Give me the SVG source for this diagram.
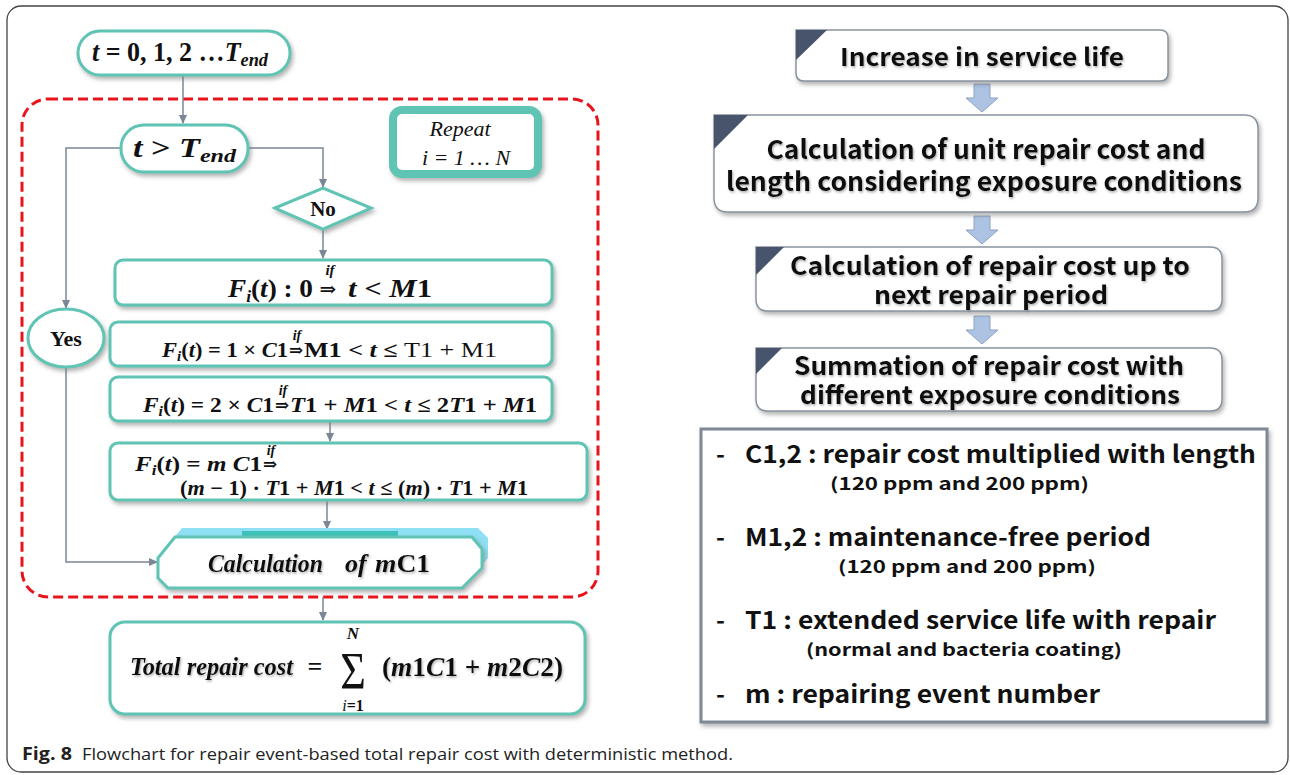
<svg xmlns="http://www.w3.org/2000/svg" width="1290" height="775" viewBox="0 0 1290 775">
<defs>
<style>
.teal{fill:#fff;stroke:#5ec4b3;stroke-width:3}
.conn{stroke:#7b8794;stroke-width:1.5;fill:none}
.m{font-family:"Liberation Serif","DejaVu Serif",serif;font-weight:bold;fill:#111}
.it{font-style:italic}
.nb{font-weight:normal}
.ar{font-family:"DejaVu Serif",serif;font-weight:bold;fill:#111}
.hd{font-family:"Noto Sans CJK KR","Noto Sans",sans-serif;font-weight:bold;fill:#111}
.lg{font-family:"Noto Sans CJK KR","Noto Sans",sans-serif;font-weight:bold;fill:#111}
.rbox{fill:#fff;stroke:#8a94a0;stroke-width:1.5}
.tri{fill:#47546b}
.barrow{fill:#adc3e4;stroke:#8ea2bf;stroke-width:1}
</style>
<filter id="sh" x="-10%" y="-10%" width="125%" height="140%">
<feDropShadow dx="2" dy="3" stdDeviation="2" flood-color="#777" flood-opacity="0.55"/>
</filter>
<filter id="tsh" x="-5%" y="-20%" width="110%" height="150%">
<feDropShadow dx="1" dy="1.5" stdDeviation="1" flood-color="#777" flood-opacity="0.6"/>
</filter>
<marker id="ah" markerWidth="9" markerHeight="8" refX="8" refY="4" orient="auto" markerUnits="userSpaceOnUse">
<path d="M0,0 L9,4 L0,8 z" fill="#7b8794"/>
</marker>
</defs>

<rect id="frame" x="7" y="6" width="1281" height="766" rx="14" fill="none" stroke="#444" stroke-width="1.3"/>

<g id="loop-region">
<rect x="22" y="99" width="576" height="498" rx="26" fill="none" stroke="#e8141c" stroke-width="3" stroke-dasharray="10 5"/>
</g>

<g id="connectors">
<path class="conn" d="M183,76 V123" marker-end="url(#ah)"/>
<path class="conn" d="M121,148 H66 V308" marker-end="url(#ah)"/>
<path class="conn" d="M248,148 H323 V187" marker-end="url(#ah)"/>
<path class="conn" d="M323,229 V258" marker-end="url(#ah)"/>
<path class="conn" d="M330,421 V441" marker-end="url(#ah)"/>
<path class="conn" d="M327,500 V529" marker-end="url(#ah)"/>
<path class="conn" d="M66,367 V562 H157" marker-end="url(#ah)"/>
<path class="conn" d="M323,597 V620" marker-end="url(#ah)"/>
<path class="barrow" d="M974,84 H990 V98 H998 L982,112 L966,98 H974 Z"/>
<path class="barrow" d="M974,216 H990 V230 H998 L982,244 L966,230 H974 Z"/>
<path class="barrow" d="M974,316 H990 V330 H998 L982,344 L966,330 H974 Z"/>
</g>

<g id="start">
<rect class="teal" x="78" y="31" width="212" height="44" rx="22" filter="url(#sh)"/>
<text class="m" x="92" y="61" font-size="27" textLength="176" lengthAdjust="spacingAndGlyphs"><tspan class="it">t</tspan> = 0, 1, 2 …<tspan class="it">T</tspan><tspan class="it" font-size="19" dy="5">end</tspan></text>
</g>

<g id="cond">
<rect class="teal" x="121" y="125" width="127" height="47" rx="23" filter="url(#sh)"/>
<text class="m" x="133" y="157" font-size="27" textLength="103" lengthAdjust="spacingAndGlyphs"><tspan class="it">t</tspan> &gt; <tspan class="it">T</tspan><tspan class="it" font-size="19" dy="5">end</tspan></text>
</g>

<g id="repeat">
<rect x="393" y="110" width="145" height="64" rx="9" fill="#fff" stroke="#5ec4b3" stroke-width="8" filter="url(#sh)"/>
<text class="m it" x="460" y="136" font-size="22" text-anchor="middle" style="font-weight:normal">Repeat</text>
<text class="m it" x="466" y="165" font-size="22" text-anchor="middle" style="font-weight:normal">i = 1  … N</text>
</g>

<g id="no">
<polygon class="teal" points="275,208 323,188 371,208 323,229" filter="url(#sh)"/>
<text class="m" x="323" y="216" font-size="21" text-anchor="middle">No</text>
</g>

<g id="yes">
<ellipse class="teal" cx="66" cy="338" rx="38" ry="29" filter="url(#sh)"/>
<text class="m" x="66" y="346" font-size="22" text-anchor="middle">Yes</text>
</g>

<g id="f0">
<rect class="teal" x="115" y="260" width="437" height="45" rx="8" filter="url(#sh)"/>
<text class="m" x="228" y="297" font-size="25" textLength="85" lengthAdjust="spacingAndGlyphs"><tspan class="it">F</tspan><tspan class="it" font-size="16" dy="5">i</tspan><tspan dy="-5">(</tspan><tspan class="it">t</tspan>) :  0</text>
<text class="ar" x="328" y="296" font-size="20" text-anchor="middle">⇒</text>
<text class="m it" x="330" y="275" font-size="15" text-anchor="middle">if</text>
<text class="m" x="348" y="297" font-size="25" textLength="84" lengthAdjust="spacingAndGlyphs"><tspan class="it">t</tspan>  &lt; <tspan class="it">M</tspan>1</text>
</g>

<g id="f1">
<rect class="teal" x="110" y="322" width="442" height="44" rx="8" filter="url(#sh)"/>
<text class="m" x="162" y="357" font-size="21" textLength="126" lengthAdjust="spacingAndGlyphs"><tspan class="it">F</tspan><tspan class="it" font-size="14" dy="4">i</tspan><tspan dy="-4">(</tspan><tspan class="it">t</tspan>) = 1 × <tspan class="it">C</tspan>1</text>
<text class="ar" x="296" y="356" font-size="17" text-anchor="middle">⇒</text>
<text class="m it" x="297" y="340" font-size="14" text-anchor="middle">if</text>
<text class="m" x="304" y="357" font-size="21" textLength="193" lengthAdjust="spacingAndGlyphs">M1 &lt;  <tspan class="it">t</tspan> ≤ <tspan class="nb">T1 + M1</tspan></text>
</g>

<g id="f2">
<rect class="teal" x="110" y="377" width="442" height="44" rx="8" filter="url(#sh)"/>
<text class="m" x="143" y="412" font-size="21" textLength="131" lengthAdjust="spacingAndGlyphs"><tspan class="it">F</tspan><tspan class="it" font-size="14" dy="4">i</tspan><tspan dy="-4">(</tspan><tspan class="it">t</tspan>) = 2 × <tspan class="it">C</tspan>1</text>
<text class="ar" x="282" y="411" font-size="17" text-anchor="middle">⇒</text>
<text class="m it" x="283" y="395" font-size="14" text-anchor="middle">if</text>
<text class="m" x="290" y="412" font-size="21" textLength="247" lengthAdjust="spacingAndGlyphs"><tspan class="it">T</tspan>1 + <tspan class="it">M</tspan>1 &lt;  <tspan class="it">t</tspan> ≤ 2<tspan class="it">T</tspan>1 + <tspan class="it">M</tspan>1</text>
</g>

<g id="fm">
<rect class="teal" x="110" y="443" width="477" height="57" rx="8" filter="url(#sh)"/>
<text class="m" x="135" y="471" font-size="21" textLength="127" lengthAdjust="spacingAndGlyphs"><tspan class="it">F</tspan><tspan class="it" font-size="14" dy="4">i</tspan><tspan dy="-4">(</tspan><tspan class="it">t</tspan>) = <tspan class="it">m C</tspan>1</text>
<text class="ar" x="270" y="470" font-size="17" text-anchor="middle">⇒</text>
<text class="m it" x="271" y="455" font-size="14" text-anchor="middle">if</text>
<text class="m" x="180" y="495" font-size="21" textLength="348" lengthAdjust="spacingAndGlyphs">(<tspan class="it">m</tspan> − 1) · <tspan class="it">T</tspan>1 + <tspan class="it">M</tspan>1 &lt;  <tspan class="it">t</tspan> ≤ (<tspan class="it">m</tspan>) · <tspan class="it">T</tspan>1 + <tspan class="it">M</tspan>1</text>
</g>

<g id="calc">
<polygon points="182,528 478,528 488,538 488,558 470,580 175,580 164,568 164,550" fill="#8fdff5"/>
<rect x="242" y="531" width="156" height="7" fill="#3cc2b8"/>
<polygon class="teal" points="175,537 472,537 482,549 482,568 462,588 168,588 158,578 158,558" filter="url(#sh)"/>
<g filter="url(#tsh)">
<text class="m it" x="208" y="572" font-size="26" textLength="115" lengthAdjust="spacingAndGlyphs">Calculation</text>
<text class="m it" x="345" y="572" font-size="26">of</text>
<text class="m" x="375" y="572" font-size="26" textLength="55" lengthAdjust="spacingAndGlyphs"><tspan class="it">m</tspan>C1</text>
</g>
</g>

<g id="total">
<rect class="teal" x="110" y="622" width="475" height="92" rx="15" filter="url(#sh)"/>
<text class="m it" x="130" y="675" font-size="25" textLength="163" lengthAdjust="spacingAndGlyphs" filter="url(#tsh)">Total repair cost</text>
<text class="m" x="315" y="675" font-size="26" text-anchor="middle">=</text>
<text class="m" x="353" y="639" font-size="17" text-anchor="middle"><tspan class="it">N</tspan></text>
<text class="m nb" x="353" y="689" font-size="44" text-anchor="middle" transform="translate(353,689) scale(1,1.2) translate(-353,-689)">Σ</text>
<text class="m" x="353" y="711" font-size="16" text-anchor="middle"><tspan class="it nb">i</tspan>=1</text>
<text class="m" x="382" y="676" font-size="27" textLength="181" lengthAdjust="spacingAndGlyphs" filter="url(#tsh)">(<tspan class="it">m</tspan>1<tspan class="it">C</tspan>1 + <tspan class="it">m</tspan>2<tspan class="it">C</tspan>2)</text>
</g>

<g id="step1">
<path class="rbox" d="M796,30 H1160 Q1168,30 1168,38 V73 Q1168,81 1160,81 H804 Q796,81 796,73 Z" filter="url(#sh)"/>
<polygon class="tri" points="796,30 827,30 796,60"/>
<text class="hd" x="982" y="66" font-size="24" text-anchor="middle" textLength="284" lengthAdjust="spacingAndGlyphs" filter="url(#tsh)">Increase in service life</text>
</g>

<g id="step2">
<path class="rbox" d="M714,115 H1244 Q1258,115 1258,129 V198 Q1258,212 1244,212 H728 Q714,212 714,198 Z" filter="url(#sh)"/>
<polygon class="tri" points="714,115 748,115 714,149"/>
<text class="hd" x="986" y="159" font-size="26" text-anchor="middle" textLength="439" lengthAdjust="spacingAndGlyphs" filter="url(#tsh)">Calculation of unit repair cost and</text>
<text class="hd" x="984" y="191" font-size="26" text-anchor="middle" textLength="516" lengthAdjust="spacingAndGlyphs" filter="url(#tsh)">length considering exposure conditions</text>
</g>

<g id="step3">
<path class="rbox" d="M756,247 H1210 Q1222,247 1222,259 V299 Q1222,311 1210,311 H768 Q756,311 756,299 Z" filter="url(#sh)"/>
<polygon class="tri" points="756,247 784,247 756,275"/>
<text class="hd" x="990" y="275" font-size="25" text-anchor="middle" textLength="400" lengthAdjust="spacingAndGlyphs" filter="url(#tsh)">Calculation of repair cost up to</text>
<text class="hd" x="991" y="304" font-size="25" text-anchor="middle" textLength="234" lengthAdjust="spacingAndGlyphs" filter="url(#tsh)">next repair period</text>
</g>

<g id="step4">
<path class="rbox" d="M756,348 H1210 Q1222,348 1222,360 V399 Q1222,411 1210,411 H768 Q756,411 756,399 Z" filter="url(#sh)"/>
<polygon class="tri" points="756,348 782,348 756,374"/>
<text class="hd" x="989" y="375" font-size="25" text-anchor="middle" textLength="390" lengthAdjust="spacingAndGlyphs" filter="url(#tsh)">Summation of repair cost with</text>
<text class="hd" x="990" y="404" font-size="25" text-anchor="middle" textLength="380" lengthAdjust="spacingAndGlyphs" filter="url(#tsh)">different exposure conditions</text>
</g>

<g id="legend">
<rect x="701" y="429" width="566" height="293" fill="#fff" stroke="#7f8894" stroke-width="3" filter="url(#sh)"/>
<text class="lg" x="716" y="463" font-size="24">-</text>
<text class="lg" x="745" y="463" font-size="24" textLength="511" lengthAdjust="spacingAndGlyphs">C1,2 : repair cost multiplied with length</text>
<text class="lg" x="830" y="490" font-size="17" textLength="259" lengthAdjust="spacingAndGlyphs">(120 ppm and 200 ppm)</text>
<text class="lg" x="716" y="546" font-size="24">-</text>
<text class="lg" x="745" y="546" font-size="24" textLength="406" lengthAdjust="spacingAndGlyphs">M1,2 : maintenance-free period</text>
<text class="lg" x="838" y="573" font-size="17" textLength="258" lengthAdjust="spacingAndGlyphs">(120 ppm and 200 ppm)</text>
<text class="lg" x="716" y="629" font-size="24">-</text>
<text class="lg" x="745" y="629" font-size="24" textLength="471" lengthAdjust="spacingAndGlyphs">T1 : extended service life with repair</text>
<text class="lg" x="806" y="656" font-size="17" textLength="316" lengthAdjust="spacingAndGlyphs">(normal and bacteria coating)</text>
<text class="lg" x="716" y="703" font-size="24">-</text>
<text class="lg" x="745" y="703" font-size="24" textLength="355" lengthAdjust="spacingAndGlyphs">m : repairing event number</text>
</g>

<g id="caption">
<text x="22" y="760" font-family="'Open Sans','Liberation Sans',sans-serif" font-size="17" font-weight="bold" fill="#222" textLength="50" lengthAdjust="spacingAndGlyphs">Fig. 8</text>
<text x="82" y="760" font-family="'Open Sans','Liberation Sans',sans-serif" font-size="17" fill="#222" textLength="651" lengthAdjust="spacingAndGlyphs">Flowchart for repair event-based total repair cost with deterministic method.</text>
</g>
</svg>
